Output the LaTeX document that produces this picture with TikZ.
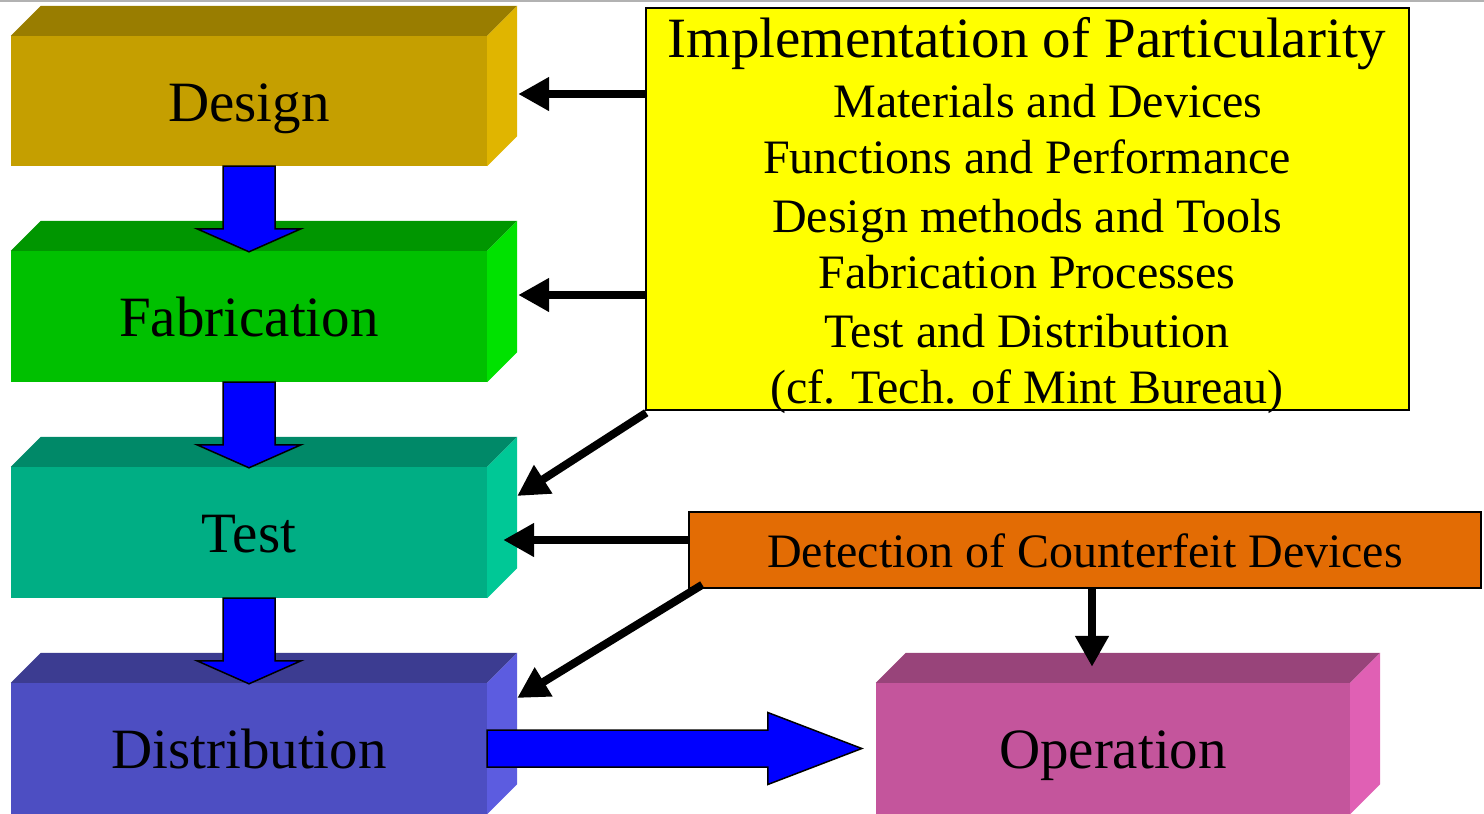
\documentclass[tikz,border=0pt]{standalone}
\usepackage{fontspec}
\setmainfont{Liberation Serif}
\usetikzlibrary{arrows.meta,calc}

% face colours of the stage blocks: front / top / side
\definecolor{desF}{RGB}{197,159,0}   \definecolor{desT}{RGB}{153,125,0}  \definecolor{desS}{RGB}{224,181,0}
\definecolor{fabF}{RGB}{0,192,0}     \definecolor{fabT}{RGB}{0,150,0}    \definecolor{fabS}{RGB}{0,226,0}
\definecolor{tstF}{RGB}{0,174,132}   \definecolor{tstT}{RGB}{0,137,104}  \definecolor{tstS}{RGB}{0,200,150}
\definecolor{disF}{RGB}{77,78,194}   \definecolor{disT}{RGB}{60,60,145}  \definecolor{disS}{RGB}{92,92,224}
\definecolor{opeF}{RGB}{196,85,156}  \definecolor{opeT}{RGB}{152,68,122} \definecolor{opeS}{RGB}{224,96,180}
\definecolor{noteY}{RGB}{255,255,0}
\definecolor{noteO}{RGB}{227,108,4}
\definecolor{flowB}{RGB}{0,0,255}

\newcommand\boxfont{\fontsize{57}{60}\selectfont}
\newcommand\notefont{\fontsize{48}{52}\selectfont}

% top and right faces of a block whose front face is node #1
\newcommand\cubefaces[3]{%
  \fill[#2] (#1.north west) -- ++(30,-30) -- ($(#1.north east)+(30,-30)$) -- (#1.north east) -- cycle;
  \fill[#3] (#1.north east) -- ++(30,-30) -- ($(#1.south east)+(30,-30)$) -- (#1.south east) -- cycle;}

% wide blue arrow from the bottom of block #1 to the top of block #2
\newcommand\dropdown[2]{%
  \filldraw[blockarrow] ($(#1.south)+(-26,0)$) -- ($(#1.south)+(26,0)$) -- ($(#2.north)+(26,-22)$)
    -- ($(#2.north)+(52,-22)$) -- ($(#2.north)+(0,1)$) -- ($(#2.north)+(-52,-22)$)
    -- ($(#2.north)+(-26,-22)$) -- cycle;}

\begin{document}
\begin{tikzpicture}[x=1pt,y=-1pt,
  front/.style={minimum width=476pt, minimum height=131pt, inner sep=0pt,
                text height=40pt, text depth=0pt, font=\boxfont},
  blockarrow/.style={fill=flowB, draw=black, line width=1.5pt, line join=miter},
  blk/.style={line width=8pt, -{Triangle[length=31pt,width=32pt]}},
  note/.style={draw=black, line width=1.5pt, inner sep=0pt}]
\useasboundingbox (0,0) rectangle (1484,814);
\fill[gray!60] (0,0) rectangle (1484,2);

% stage blocks (front faces)
\node[front, fill=desF, minimum height=130pt] (design) at (249,101) {Design};
\node[front, fill=fabF] (fab)  at (249,316.5) {Fabrication};
\node[front, fill=tstF] (test) at (249,532.5) {Test};
\node[front, fill=disF] (dist) at (249,748.5) {Distribution};
\node[front, fill=opeF, minimum width=474pt] (oper) at (1113,748.5) {Operation};
\cubefaces{design}{desT}{desS}
\cubefaces{fab}{fabT}{fabS}
\cubefaces{test}{tstT}{tstS}
\cubefaces{dist}{disT}{disS}
\cubefaces{oper}{opeT}{opeS}

% flow between stages
\dropdown{design}{fab}
\dropdown{fab}{test}
\dropdown{test}{dist}
\coordinate (otip) at ($(oper.west)+(-14,0)$);
\filldraw[blockarrow] ($(dist.east)+(0,-18.5)$) -- ($(otip)+(-94,-18.5)$) -- ($(otip)+(-94,-36)$)
  -- (otip) -- ($(otip)+(-94,36)$) -- ($(otip)+(-94,18.5)$) -- ($(dist.east)+(0,18.5)$) -- cycle;

% particularity note
\node[note, fill=noteY, minimum width=763pt, minimum height=402pt] (yel) at (1027.5,209) {};
\node[anchor=base, font=\boxfont] (yl1) at (1027,57)  {Implementation of Particularity};
\node[anchor=base, font=\notefont] (yl2) at (1048,117) {Materials and Devices};
\node[anchor=base, font=\notefont] (yl3) at (1027,173) {Functions and Performance};
\node[anchor=base, font=\notefont] (yl4) at (1027,232) {Design methods and Tools};
\node[anchor=base, font=\notefont] (yl5) at (1027,288) {Fabrication Processes};
\node[anchor=base, font=\notefont] (yl6) at (1027,347) {Test and Distribution};
\node[anchor=base, font=\notefont] (yl7) at (1027,403) {(cf. Tech. of Mint Bureau)};

% counterfeit detection note
\node[note, fill=noteO, minimum width=792pt, minimum height=76pt,
      text height=34pt, text depth=0pt, font=\notefont] (org) at (1085,550) {Detection of Counterfeit Devices};

% influences of the notes on the stages
\coordinate (dtip) at ($(design.east)+(31,-7)$);
\coordinate (ftip) at ($(fab.east)+(31,-21.5)$);
\coordinate (ttip) at ($(test.east)+(30,-36.5)$);
\coordinate (t2tip) at ($(test.east)+(16,7.5)$);
\coordinate (dstip) at ($(dist.east)+(30,-50.5)$);
\coordinate (otop) at ($(oper.north)+(-21,-16)$);
\draw[blk] (yel.west |- dtip) -- (dtip);
\draw[blk] (yel.west |- ftip) -- (ftip);
\draw[blk] ($(yel.south west)+(1,2)$) -- (ttip);
\draw[blk] (org.west |- t2tip) -- (t2tip);
\draw[blk] ($(org.south west)+(14,-4)$) -- (dstip);
\draw[blk] (org.south -| otop) -- (otop);
\end{tikzpicture}
\end{document}
